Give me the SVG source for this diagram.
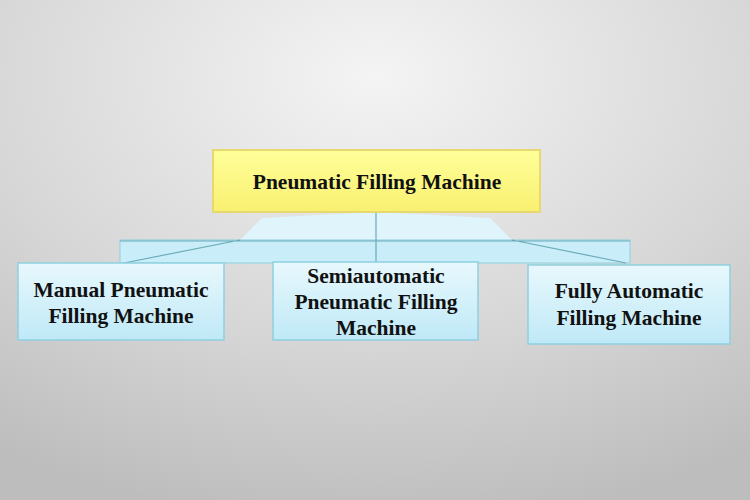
<svg xmlns="http://www.w3.org/2000/svg" width="750" height="500" viewBox="0 0 750 500">
<defs>
<radialGradient id="bg" cx="0.5" cy="0.15" r="0.9">
<stop offset="0" stop-color="#f4f4f4"/><stop offset="0.6" stop-color="#d6d6d6"/><stop offset="1" stop-color="#bdbdbd"/>
</radialGradient>
<linearGradient id="yel" x1="0" y1="0" x2="0" y2="1">
<stop offset="0" stop-color="#ffff9a"/><stop offset="1" stop-color="#f8f070"/>
</linearGradient>
<linearGradient id="blu" x1="0" y1="0" x2="0" y2="1">
<stop offset="0" stop-color="#e8f8fd"/><stop offset="1" stop-color="#bfe9f7"/>
</linearGradient>
<style>
.t{font-family:"Liberation Serif",serif;font-weight:bold;font-size:21.5px;fill:#111;text-anchor:middle}
.b{fill:url(#blu);stroke:#8fcfe0;stroke-width:1.5}
.c{stroke:#6aaab8;stroke-width:1.2;fill:none}
</style>
</defs>
<rect width="750" height="500" fill="url(#bg)"/>
<g id="connectors">
<path d="M240 240 L262 218 L376 212 L490 218 L512 240 Z" fill="#dff4fb"/>
<rect x="120" y="240" width="510" height="23" fill="#c9eef9" stroke="#8fcfe0"/>
<path class="c" d="M376 212 V263 M120 241 H630 M240 240 L124 263 M512 240 L626 263"/>
</g>
<g id="top">
<rect x="213" y="150" width="327" height="62" fill="url(#yel)" stroke="#e8d870" stroke-width="2"/>
<text class="t" x="377" y="189">Pneumatic Filling Machine</text>
</g>
<g id="manual">
<rect class="b" x="18" y="263" width="206" height="77"/>
<text class="t" x="121" y="297">Manual Pneumatic</text>
<text class="t" x="121" y="323">Filling Machine</text>
</g>
<g id="semi">
<rect class="b" x="273" y="262" width="205" height="78"/>
<text class="t" x="376" y="283">Semiautomatic</text>
<text class="t" x="376" y="309">Pneumatic Filling</text>
<text class="t" x="376" y="335">Machine</text>
</g>
<g id="fully">
<rect class="b" x="528" y="265" width="202" height="79"/>
<text class="t" x="629" y="298">Fully Automatic</text>
<text class="t" x="629" y="325">Filling Machine</text>
</g>
</svg>
